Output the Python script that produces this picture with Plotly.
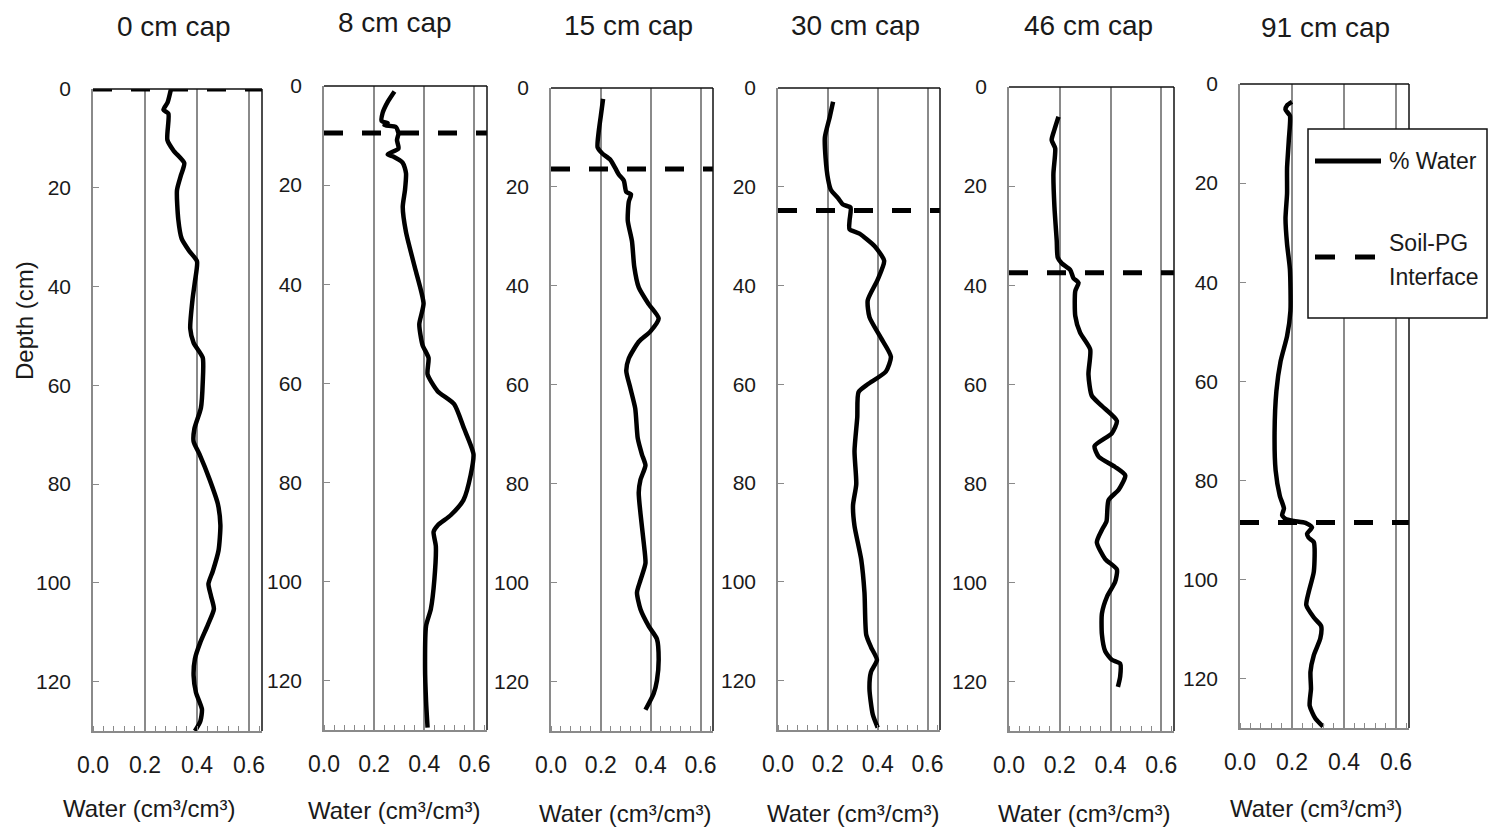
import plotly.graph_objects as go

# ---------------- data ----------------
titles = ["0 cm cap", "8 cm cap", "15 cm cap", "30 cm cap", "46 cm cap", "91 cm cap"]

depth_0cm = [0, 2.7, 4.2, 5, 10.3, 12.5, 15, 17.5, 20.5, 26.4, 30.3, 32.8, 34.9, 39, 42.5, 48.5,
             51.4, 54.4, 59.5, 64.6, 68.8, 71.4, 73.9, 79, 84, 88.3, 93.4, 97.6, 100.2, 102.7,
             105.3, 108.6, 112, 115.4, 118.8, 122.2, 125.6, 128, 130]
water_0cm = [0.30, 0.287, 0.271, 0.29, 0.286, 0.31, 0.351, 0.338, 0.323, 0.328, 0.341, 0.37, 0.40,
             0.392, 0.383, 0.374, 0.387, 0.422, 0.422, 0.415, 0.39, 0.387, 0.409, 0.448, 0.48, 0.49,
             0.483, 0.461, 0.444, 0.454, 0.465, 0.441, 0.413, 0.392, 0.387, 0.396, 0.419, 0.413, 0.392]

depth_8cm = [1.1, 3.2, 5.4, 7.1, 7.5, 7.9, 8.3, 9.6, 10.9, 12.6, 13.8, 14.2, 15.5, 17.6, 21, 24.4,
             29.5, 36.2, 43.9, 48.1, 52.3, 54.9, 58.2, 61.6, 64.2, 69.2, 74.3, 78.5, 83.6, 86.6,
             88.7, 90, 92.9, 99.7, 105.6, 109, 117.5, 124.2, 129.5]
water_8cm = [0.281, 0.254, 0.234, 0.23, 0.254, 0.241, 0.287, 0.297, 0.291, 0.297, 0.254, 0.274,
             0.314, 0.327, 0.323, 0.314, 0.327, 0.36, 0.397, 0.38, 0.393, 0.417, 0.413, 0.453,
             0.519, 0.559, 0.596, 0.585, 0.556, 0.506, 0.453, 0.437, 0.446, 0.44, 0.426, 0.407,
             0.403, 0.407, 0.413]

depth_15cm = [2.2, 5.6, 9, 12, 13.2, 14.5, 16.2, 17.5, 18.7, 21, 21.5, 23, 26.8, 31, 36.1, 40.3,
              43.7, 46.6, 49.2, 51.3, 54.7, 57.2, 60.6, 64.8, 70.8, 74.1, 76.3, 79.2, 81.8, 86,
              91.9, 96.1, 99.5, 102, 105.4, 108.8, 111.4, 115.6, 119.8, 122.4, 125.7]
water_15cm = [0.209, 0.2, 0.191, 0.187, 0.205, 0.238, 0.258, 0.272, 0.292, 0.302, 0.321, 0.312,
              0.308, 0.325, 0.334, 0.352, 0.392, 0.432, 0.399, 0.352, 0.312, 0.302, 0.318, 0.338,
              0.348, 0.365, 0.379, 0.359, 0.352, 0.359, 0.372, 0.379, 0.359, 0.345, 0.359, 0.392,
              0.425, 0.432, 0.425, 0.412, 0.379]

depth_30cm = [2.8, 5.8, 10, 14.2, 18.5, 20.6, 22.3, 23.6, 24.2, 26.9, 28.6, 29.5, 32, 35, 38.8, 43,
              46.4, 50.6, 54.4, 57.4, 60, 61.6, 66.7, 73.5, 80.2, 84.5, 88.7, 95.5, 102.2, 110.7,
              113.2, 115.8, 118.3, 121.7, 126.8, 129.5]
water_30cm = [0.221, 0.208, 0.188, 0.191, 0.201, 0.212, 0.241, 0.261, 0.291, 0.287, 0.287, 0.327,
              0.387, 0.426, 0.4, 0.36, 0.367, 0.413, 0.453, 0.433, 0.36, 0.323, 0.318, 0.307,
              0.314, 0.301, 0.307, 0.334, 0.347, 0.354, 0.373, 0.397, 0.373, 0.367, 0.38, 0.4]

depth_46cm = [6, 8.6, 10.7, 12.4, 17.5, 24.2, 31, 34.4, 35.6, 36.9, 38.6, 39.5, 41.2, 46.2, 49.6,
              53, 58, 62.3, 64.4, 67.4, 69.9, 72.5, 74.6, 76.7, 78.4, 81.3, 83.4, 87.7, 89.4,
              91.9, 95.3, 97.4, 99.9, 102.9, 106.3, 110.5, 113.9, 115.6, 116.4, 119, 121.1]
water_46cm = [0.195, 0.179, 0.168, 0.182, 0.175, 0.179, 0.188, 0.192, 0.208, 0.241, 0.254, 0.274,
              0.261, 0.261, 0.28, 0.32, 0.313, 0.326, 0.366, 0.425, 0.405, 0.337, 0.353, 0.418,
              0.458, 0.432, 0.392, 0.384, 0.366, 0.346, 0.379, 0.425, 0.418, 0.386, 0.366, 0.366,
              0.379, 0.405, 0.438, 0.438, 0.429]

depth_91cm = [3.6, 4.3, 5.2, 6.4, 11.1, 17, 22.1, 27.2, 32.3, 37.4, 45.8, 50.9, 56, 62, 70.4, 78,
              83.1, 85.7, 87, 87.8, 88.2, 88.6, 89.5, 90.8, 91.6, 92.5, 98.4, 102.6, 105.2, 107.7,
              109.4, 111.9, 115.3, 118.7, 122.1, 125.5, 128.1, 129.7]
water_91cm = [0.2, 0.181, 0.175, 0.192, 0.188, 0.181, 0.181, 0.175, 0.181, 0.192, 0.194, 0.181,
              0.156, 0.14, 0.133, 0.137, 0.153, 0.169, 0.162, 0.175, 0.207, 0.252, 0.277, 0.258,
              0.264, 0.284, 0.284, 0.264, 0.255, 0.284, 0.312, 0.309, 0.284, 0.271, 0.273, 0.268,
              0.29, 0.319]

interface_depth = [0, 9.5, 16.4, 24.8, 37.5, 88.5]

x_range = [0, 0.65]
y_range = [130, 0]
x_tickvals = [0.0, 0.2, 0.4, 0.6]
x_ticklabels = ["0.0", "0.2", "0.4", "0.6"]
y_tickvals = [0, 20, 40, 60, 80, 100, 120]
y_ticklabels = ["0", "20", "40", "60", "80", "100", "120"]

x_title = "Water (cm³/cm³)"
y_title = "Depth (cm)"
legend_labels = ["% Water", "Soil-PG", "Interface"]

depths = [depth_0cm, depth_8cm, depth_15cm, depth_30cm, depth_46cm, depth_91cm]
waters = [water_0cm, water_8cm, water_15cm, water_30cm, water_46cm, water_91cm]

# ---------------- layout (pixels) ----------------
W, H = 1490, 833
FONT = "Arial, 'Liberation Sans', sans-serif"
TXT = "#1a1a1a"
GRAY = "#8a8a8a"

# left, right, top, bottom of each plot area in px
panels = [(93, 262, 89, 731), (324, 487, 86, 730), (551, 713, 88, 731),
          (778, 940, 88, 730), (1009, 1174, 87, 731), (1240, 1409, 84, 728)]
title_pos = [(174, 27), (395, 22), (628, 25), (855, 25), (1088, 25), (1325, 28)]
xtitle_pos = [(149, 808), (394, 810), (625, 813), (853, 813), (1084, 813), (1316, 808)]


def px(x):
    return x / W


def py(y):
    return 1 - y / H


fig = go.Figure()
shapes = []
annotations = []
layout = {}

for i in range(6):
    ax = "" if i == 0 else str(i + 1)
    l, r, t, b = panels[i]
    fig.add_trace(go.Scatter(
        x=waters[i], y=depths[i], mode="lines", name="% Water",
        line=dict(color="black", width=4.5, shape="spline", smoothing=0.6),
        xaxis="x" + ax, yaxis="y" + ax, showlegend=False, hoverinfo="x+y"))
    fig.add_trace(go.Scatter(
        x=x_range, y=[interface_depth[i]] * 2, mode="lines", name="Soil-PG Interface",
        line=dict(color="black", width=5, dash="19px,19px"),
        xaxis="x" + ax, yaxis="y" + ax, showlegend=False, hoverinfo="y"))

    layout["xaxis" + ax] = dict(
        domain=[px(l), px(r)], anchor="y" + ax, range=x_range, automargin=False,
        tickmode="array", tickvals=x_tickvals, ticktext=x_ticklabels,
        ticks="", showgrid=True, gridcolor=GRAY, gridwidth=1.5,
        showline=True, linecolor=GRAY, linewidth=1.5, zeroline=False,
        tickfont=dict(family=FONT, size=23, color=TXT), ticklabelstandoff=13,
        minor=dict(tickmode="linear", tick0=0, dtick=0.04, ticks="inside",
                   ticklen=5, tickcolor=GRAY, tickwidth=1, showgrid=False),
        fixedrange=True)
    layout["yaxis" + ax] = dict(
        domain=[py(b), py(t)], anchor="x" + ax, range=y_range, automargin=False,
        tickmode="array", tickvals=y_tickvals, ticktext=y_ticklabels,
        ticks="inside", ticklen=6, tickcolor=GRAY, tickwidth=1,
        showgrid=False, showline=True, linecolor=GRAY, linewidth=1.5, zeroline=False,
        tickfont=dict(family=FONT, size=21, color=TXT), ticklabelstandoff=16,
        fixedrange=True)

    # dark top and right borders
    shapes.append(dict(type="line", xref=f"x{ax} domain", yref=f"y{ax} domain",
                       x0=0, x1=1, y0=1, y1=1, line=dict(color="#111", width=1.5)))
    shapes.append(dict(type="line", xref=f"x{ax} domain", yref=f"y{ax} domain",
                       x0=1, x1=1, y0=0, y1=1, line=dict(color="#111", width=1.5)))

    tx, ty = title_pos[i]
    annotations.append(dict(text=titles[i], xref="paper", yref="paper", x=px(tx), y=py(ty),
                            xanchor="center", yanchor="middle", showarrow=False,
                            font=dict(family=FONT, size=28, color=TXT)))
    ax_x, ax_y = xtitle_pos[i]
    annotations.append(dict(text=x_title, xref="paper", yref="paper", x=px(ax_x), y=py(ax_y),
                            xanchor="center", yanchor="middle", showarrow=False,
                            font=dict(family=FONT, size=24, color=TXT)))

# y-axis title (first panel only)
annotations.append(dict(text=y_title, xref="paper", yref="paper", x=px(25), y=py(321),
                        xanchor="center", yanchor="middle", showarrow=False, textangle=-90,
                        font=dict(family=FONT, size=24, color=TXT)))

# legend (drawn by hand to match the boxed legend)
shapes.append(dict(type="rect", xref="paper", yref="paper", x0=px(1308), x1=px(1487),
                   y0=py(318), y1=py(129), line=dict(color="#111", width=1.5),
                   fillcolor="white", layer="above"))
shapes.append(dict(type="line", xref="paper", yref="paper", x0=px(1315), x1=px(1381),
                   y0=py(161), y1=py(161), line=dict(color="black", width=5), layer="above"))
shapes.append(dict(type="line", xref="paper", yref="paper", x0=px(1315), x1=px(1375),
                   y0=py(257), y1=py(257), line=dict(color="black", width=5, dash="20px,20px"),
                   layer="above"))
for lab, yy in zip(legend_labels, [161, 243, 277]):
    annotations.append(dict(text=lab, xref="paper", yref="paper", x=px(1387), y=py(yy),
                            xanchor="left", yanchor="middle", showarrow=False,
                            font=dict(family=FONT, size=23, color=TXT)))

fig.update_layout(
    width=W, height=H, margin=dict(l=0, r=0, t=0, b=0, autoexpand=False),
    paper_bgcolor="white", plot_bgcolor="white", showlegend=False,
    shapes=shapes, annotations=annotations, **layout)

fig.write_html("out.html")
